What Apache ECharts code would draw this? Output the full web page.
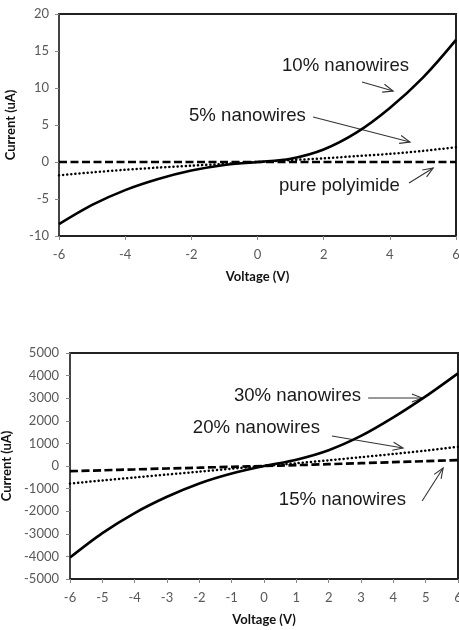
<!DOCTYPE html>
<html>
<head>
<meta charset="utf-8">
<script src="https://cdn.jsdelivr.net/npm/echarts@6/dist/echarts.min.js"></script>
<style>
  html, body { margin: 0; padding: 0; background: #fff; }
  #chart { width: 459px; height: 630px; }
</style>
</head>
<body>
<div id="chart"></div>
<script>
// Voltage sweep (V)
const voltage = [-6, -5, -4, -3, -2, -1, 0, 1, 2, 3, 4, 5, 6];

// Upper panel: current (uA)
const wires10 = [-8.4, -5.8, -3.8, -2.3, -1.15, -0.4, 0, 0.45, 1.7, 4.0, 7.3, 11.4, 16.5];
const wires5 = [-1.8, -1.4, -1.05, -0.75, -0.5, -0.25, 0, 0.25, 0.5, 0.8, 1.1, 1.5, 2.0];
const polyimide = [0, 0, 0, 0, 0, 0, 0, 0, 0, 0, 0, 0, 0];

// Lower panel: current (uA)
const wires30 = [-4050, -2970, -2080, -1360, -770, -330, 0, 280, 700, 1330, 2150, 3080, 4100];
const wires20 = [-780, -640, -510, -380, -250, -120, 0, 120, 250, 390, 530, 680, 850];
const wires15 = [-230, -190, -150, -110, -75, -35, 0, 40, 80, 125, 170, 215, 260];

// Axis ranges and tick steps
const topXTicks = { min: -6, max: 6, interval: 2 };
const topYTicks = { min: -10, max: 20, interval: 5 };
const bottomXTicks = { min: -6, max: 6, interval: 1 };
const bottomYTicks = { min: -5000, max: 5000, interval: 1000 };

// Callouts, in data units of their panel: text anchored at its left/middle
const topNotes = [
  { text: '10% nanowires', at: [0.74, 12.97] },
  { text: '5% nanowires', at: [-2.07, 6.22] },
  { text: 'pure polyimide', at: [0.65, -3.24] }
];
const topArrows = [
  { from: [3.16, 10.81], to: [4.10, 9.59] },
  { from: [1.68, 6.08], to: [4.61, 2.70] },
  { from: [4.58, -2.84], to: [5.31, -0.81] }
];
const bottomNotes = [
  { text: '30% nanowires', at: [-0.93, 3097] },
  { text: '20% nanowires', at: [-2.20, 1681] },
  { text: '15% nanowires', at: [0.46, -1504] }
];
const bottomArrows = [
  { from: [3.22, 3009], to: [4.89, 3009] },
  { from: [2.10, 1327], to: [4.30, 796] },
  { from: [4.89, -1549], to: [5.54, -88] }
];

const pairs = (xs, ys) => xs.map((x, i) => [x, ys[i]]);

const tickFont = { fontFamily: 'Lato, "Open Sans", sans-serif', fontSize: 13, color: '#595959' };
const nameFont = { fontFamily: 'Lato, "Open Sans", sans-serif', fontSize: 13, fontWeight: 'bold', color: '#111' };

function xAxis(gridIndex, ticks) {
  return {
    type: 'value', gridIndex, min: ticks.min, max: ticks.max, interval: ticks.interval,
    name: 'Voltage (V)', nameLocation: 'middle', nameGap: 34, nameTextStyle: nameFont,
    axisLine: { onZero: false, lineStyle: { color: '#222', width: 2 } },
    axisTick: { show: true, inside: false, length: 4, lineStyle: { color: '#888' } },
    axisLabel: Object.assign({ margin: 12, formatter: (v) => String(v) }, tickFont),
    splitLine: { show: false }
  };
}
function yAxis(gridIndex, ticks, margin, gap) {
  return {
    type: 'value', gridIndex, min: ticks.min, max: ticks.max, interval: ticks.interval,
    name: 'Current (uA)', nameLocation: 'middle', nameGap: gap, nameTextStyle: nameFont,
    axisLine: { onZero: false, lineStyle: { color: '#444', width: 2 } },
    axisTick: { show: true, inside: false, length: 4, lineStyle: { color: '#888' } },
    axisLabel: Object.assign({ margin, formatter: (v) => String(v) }, tickFont),
    splitLine: { show: false }
  };
}

const solid = { color: '#000', width: 2.6, type: 'solid' };
const dashed = { color: '#000', width: 2.7, type: [8, 3.5] };
const dotted = { color: '#000', width: 2.5, type: [0.1, 4], cap: 'round' };

function curve(idx, data, style, smooth) {
  return {
    type: 'line', xAxisIndex: idx, yAxisIndex: idx, data,
    showSymbol: false, smooth, lineStyle: style, silent: true, animation: false
  };
}

const chart = echarts.init(document.getElementById('chart'), null, { renderer: 'canvas' });
chart.setOption({
  animation: false,
  backgroundColor: '#fff',
  grid: [
    { left: 59, right: 3, top: 14, height: 222, outerBoundsMode: 'none', containLabel: false, show: true, borderColor: '#222', borderWidth: 2, backgroundColor: 'transparent' },
    { left: 70, right: 1, top: 353, height: 226, outerBoundsMode: 'none', containLabel: false, show: true, borderColor: '#222', borderWidth: 2, backgroundColor: 'transparent' }
  ],
  xAxis: [xAxis(0, topXTicks), xAxis(1, bottomXTicks)],
  yAxis: [yAxis(0, topYTicks, 10, 42), yAxis(1, bottomYTicks, 11, 56)],
  series: [
    curve(0, pairs(voltage, polyimide), dashed, false),
    curve(0, pairs(voltage, wires5), dotted, 0.3),
    curve(0, pairs(voltage, wires10), solid, 0.3),
    curve(1, pairs(voltage, wires15), dashed, 0.3),
    curve(1, pairs(voltage, wires20), dotted, 0.3),
    curve(1, pairs(voltage, wires30), solid, 0.3)
  ]
});

// Callout text and open-headed arrows, placed through each panel's scales
function callouts(gridIndex, notes, arrows) {
  const els = [];
  const px = (p) => chart.convertToPixel({ gridIndex }, p);
  notes.forEach((n) => {
    const [x, y] = px(n.at);
    els.push({
      type: 'text', x, y, silent: true,
      style: { text: n.text, fill: '#1a1a1a', fontSize: 18.6, fontFamily: '"Liberation Sans", Arial, sans-serif', verticalAlign: 'middle', align: 'left' }
    });
  });
  arrows.forEach((a) => {
    const [x1, y1] = px(a.from);
    const [x2, y2] = px(a.to);
    const ang = Math.atan2(y2 - y1, x2 - x1);
    const len = 11, spread = 0.38;
    const h1 = [x2 - len * Math.cos(ang - spread), y2 - len * Math.sin(ang - spread)];
    const h2 = [x2 - len * Math.cos(ang + spread), y2 - len * Math.sin(ang + spread)];
    els.push({ type: 'line', silent: true, shape: { x1, y1, x2, y2 }, style: { stroke: '#333', lineWidth: 1.1 } });
    els.push({ type: 'polyline', silent: true, shape: { points: [h1, [x2, y2], h2] }, style: { stroke: '#333', lineWidth: 1.1, fill: null } });
  });
  return els;
}

chart.setOption({
  graphic: callouts(0, topNotes, topArrows).concat(callouts(1, bottomNotes, bottomArrows))
});
</script>
</body>
</html>
